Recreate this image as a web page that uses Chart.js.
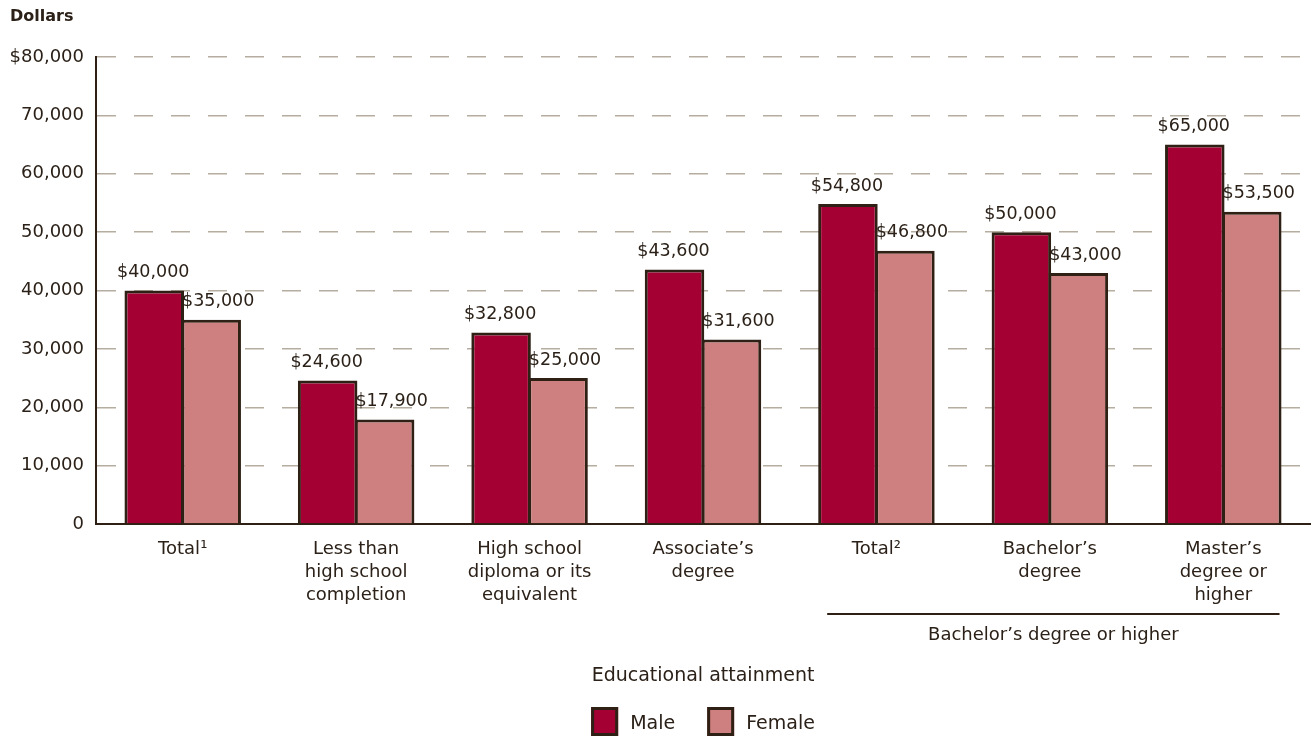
<!DOCTYPE html>
<html lang="en">
<head>
<meta charset="utf-8">
<title>Median earnings by educational attainment</title>
<script src="https://cdn.jsdelivr.net/npm/chart.js@4"></script>
<style>
  html, body { margin: 0; padding: 0; background: #fff; }
  canvas { display: block; }
</style>
</head>
<body>
<canvas id="myChart" width="1316" height="737"></canvas>
<script>
// categories (multi-line tick labels)
const categories = [
    ['Total\u00B9'],
    ['Less than', 'high school', 'completion'],
    ['High school', 'diploma or its', 'equivalent'],
    ['Associate\u2019s', 'degree'],
    ['Total\u00B2'],
    ['Bachelor\u2019s', 'degree'],
    ['Master\u2019s', 'degree or', 'higher']
];
const maleValues = [40000, 24600, 32800, 43600, 54800, 50000, 65000];
const femaleValues = [35000, 17900, 25000, 31600, 46800, 43000, 53500];
const seriesNames = ['Male', 'Female'];
const yMax = 80000;
const yStep = 10000;
const groupLabel = 'Bachelor\u2019s degree or higher';
const legendTitle = 'Educational attainment';

const ink = '#2b2118';
const maleColor = '#a50034';
const femaleColor = '#ce7f7f';
const edge = '#2e2014';
const fontFamily = '"DejaVu Sans", sans-serif';

const money = v => '$' + v.toLocaleString('en-US');

// value labels above bars (female ones nudged right, clear of the taller bar)
const valueLabels = {
    id: 'valueLabels',
    afterDatasetsDraw(chart) {
        const ctx = chart.ctx;
        ctx.save();
        ctx.font = '17.5px ' + fontFamily;
        ctx.fillStyle = ink;
        ctx.textAlign = 'center';
        ctx.textBaseline = 'middle';
        chart.data.datasets.forEach((ds, di) => {
            chart.getDatasetMeta(di).data.forEach((bar, i) => {
                ctx.fillText(money(ds.data[i]), bar.x + (di ? 7 : -1), bar.y - 18);
            });
        });
        ctx.restore();
    }
};

// axis title, group bracket and legend
const extras = {
    id: 'extras',
    afterDraw(chart) {
        const ctx = chart.ctx;
        const area = chart.chartArea;
        ctx.save();
        ctx.fillStyle = ink;
        ctx.textBaseline = 'middle';

        ctx.font = 'bold 16px ' + fontFamily;
        ctx.textAlign = 'left';
        ctx.fillText('Dollars', 10, 17);

        // bracket under the bachelor's group
        const m = chart.getDatasetMeta(0).data;
        const f = chart.getDatasetMeta(1).data;
        const x1 = m[4].x - m[4].width / 2 + 9;
        const x2 = f[6].x + f[6].width / 2 - 2;
        ctx.strokeStyle = edge;
        ctx.lineWidth = 2;
        ctx.beginPath();
        ctx.moveTo(x1, 614);
        ctx.lineTo(x2, 614);
        ctx.stroke();
        ctx.font = '18px ' + fontFamily;
        ctx.textAlign = 'center';
        ctx.fillText(groupLabel, (x1 + x2) / 2, 635);

        // legend
        const cx = (area.left + area.right) / 2;
        ctx.font = '19px ' + fontFamily;
        ctx.fillText(legendTitle, cx, 676);
        const boxW = 27, boxH = 29, gap = 12, spacing = 32;
        ctx.textAlign = 'left';
        const widths = chart.data.datasets.map(ds => boxW + gap + ctx.measureText(ds.label).width);
        const total = widths.reduce((a, b) => a + b, 0) + spacing * (widths.length - 1);
        let x = cx - total / 2;
        chart.data.datasets.forEach((ds, i) => {
            ctx.fillStyle = ds.backgroundColor;
            ctx.fillRect(x, 707, boxW, boxH);
            ctx.strokeStyle = edge;
            ctx.lineWidth = 3;
            ctx.strokeRect(x + 1.5, 708.5, boxW - 3, boxH - 3);
            ctx.fillStyle = ink;
            ctx.fillText(ds.label, x + boxW + gap, 724);
            x += widths[i] + spacing;
        });
        ctx.restore();
    }
};

const myChart = new Chart(document.getElementById('myChart'), {
    type: 'bar',
    data: {
        labels: categories,
        datasets: [{
            label: seriesNames[0],
            data: maleValues,
            backgroundColor: maleColor,
            borderColor: edge,
            borderWidth: 3
        }, {
            label: seriesNames[1],
            data: femaleValues,
            backgroundColor: femaleColor,
            borderColor: edge,
            borderWidth: 3
        }]
    },
    options: {
        responsive: false,
        animation: false,
        // slight overlap so neighbouring bars share one edge
        barPercentage: 1.045,
        categoryPercentage: 0.657,
        layout: { padding: { top: 57, right: 6, bottom: 133, left: 0 } },
        plugins: {
            legend: { display: false },
            tooltip: { enabled: false }
        },
        scales: {
            x: {
                grid: { display: false, drawTicks: false },
                border: { display: true, color: edge, width: 2 },
                ticks: {
                    color: ink,
                    padding: 14,
                    maxRotation: 0,
                    autoSkip: false,
                    font: { family: fontFamily, size: 18, lineHeight: 1.28 }
                },
                afterFit: s => { s.height = 80; }
            },
            y: {
                min: 0,
                max: yMax,
                grid: { color: '#b5ad9f', lineWidth: 1.5, drawTicks: false },
                border: { display: true, color: edge, width: 2, dash: [19, 18] },
                ticks: {
                    stepSize: yStep,
                    color: ink,
                    padding: 12,
                    font: { family: fontFamily, size: 18 },
                    callback: v => v === yMax ? money(v) : v.toLocaleString('en-US')
                },
                afterFit: s => { s.width = 96; }
            }
        }
    },
    plugins: [valueLabels, extras]
});
</script>
</body>
</html>
